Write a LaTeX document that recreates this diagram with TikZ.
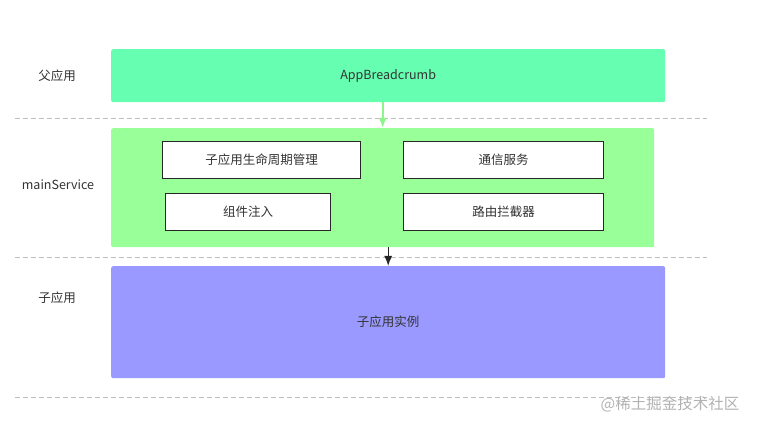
\documentclass[tikz,border=0pt]{standalone}
\usepackage{fontspec}
\setmainfont{Noto Sans CJK SC}
\usetikzlibrary{arrows.meta}
\definecolor{parentgreen}{RGB}{102,255,178}
\definecolor{servicegreen}{RGB}{153,255,153}
\definecolor{arrowgreen}{RGB}{140,245,140}
\definecolor{childblue}{RGB}{153,153,255}
\definecolor{textgray}{RGB}{51,51,51}
\definecolor{sepgray}{RGB}{190,190,190}
\tikzset{
    layer/.style={rounded corners=2pt, anchor=north west, inner sep=0pt, text=textgray},
    module/.style={draw=black!85, line width=1.3pt, fill=white, minimum height=37pt, anchor=north west, inner sep=0pt, text=textgray},
    sep/.style={draw=sepgray, line width=0.9pt, dash pattern=on 5pt off 3pt}
}
\begin{document}
\begin{tikzpicture}[x=1pt,y=-1pt,font=\fontsize{12.5}{15}\selectfont]
    \useasboundingbox (0,0) rectangle (757,427);

    \draw [sep] (15,118) -- (707,118);
    \draw [sep] (15,257) -- (707,257);
    \draw [sep] (15,397) -- (707,397);

    \node (parent) at (111,49) [layer, fill=parentgreen, minimum width=554pt, minimum height=53pt] {AppBreadcrumb};

    \node (service) at (111,128) [layer, fill=servicegreen, minimum width=543pt, minimum height=119pt] {};

    \node (lifecycle) at (162,141) [module, minimum width=198pt] {子应用生命周期管理};
    \node (inject) at (165,193) [module, minimum width=165pt] {组件注入};
    \node (comm) at (403,141) [module, minimum width=200pt] {通信服务};
    \node (router) at (403,193) [module, minimum width=200pt] {路由拦截器};

    \node (child) at (111,266) [layer, fill=childblue, minimum width=554pt, minimum height=112pt] {子应用实例};

    \path [-{Latex[length=10pt,width=8pt]}]
        (service.north |- parent.south) edge [draw=arrowgreen, line width=1.8pt] (service.north)
        (child.north |- service.south) edge [draw=black!85, line width=1.3pt] (child.north)
    ;

    \node [text=textgray] at (57,76) {父应用};
    \node [text=textgray] at (58,185) {mainService};
    \node [text=textgray] at (57,298) {子应用};

    \node [text=black!30, font=\fontsize{15.5}{18}\selectfont] at (670,404) {@稀土掘金技术社区};
\end{tikzpicture}
\end{document}
